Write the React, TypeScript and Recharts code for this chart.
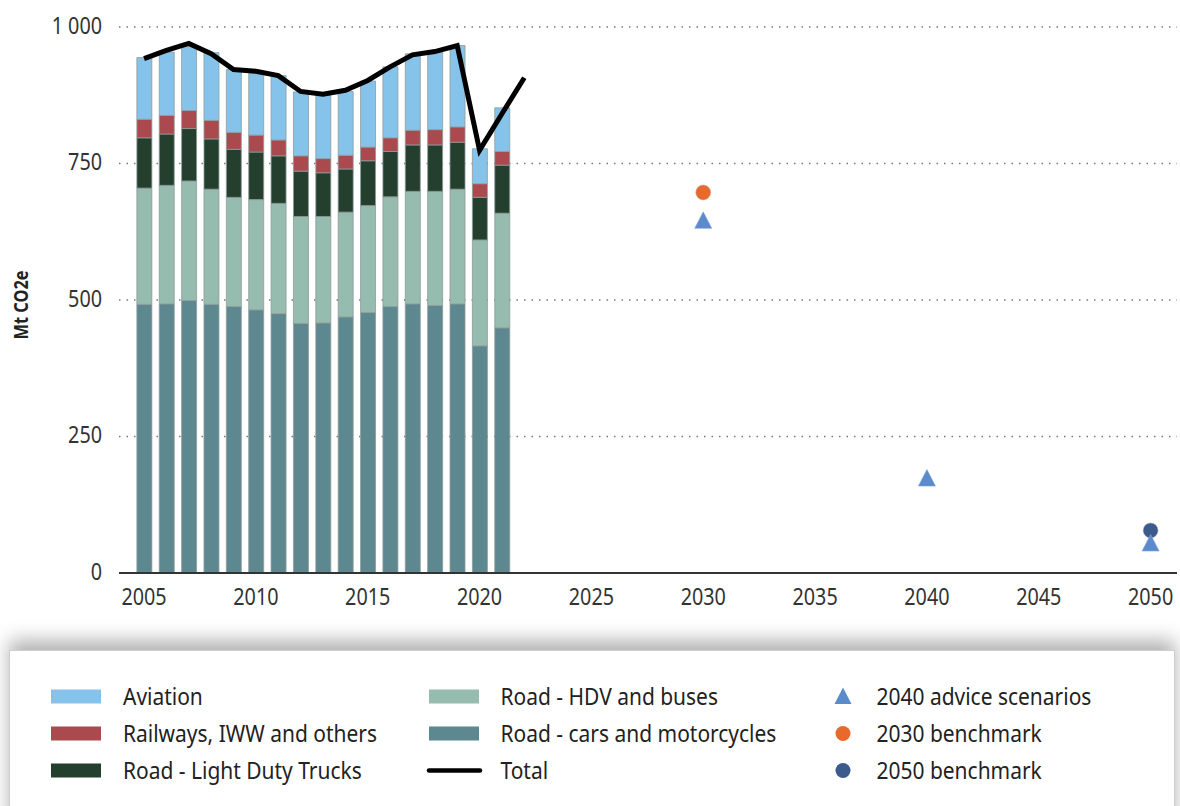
import React from 'react';
import { ComposedChart, Bar, Line, Scatter, XAxis, YAxis, CartesianGrid } from 'recharts';

const years = [2005, 2006, 2007, 2008, 2009, 2010, 2011, 2012, 2013, 2014, 2015, 2016, 2017, 2018, 2019, 2020, 2021];
const carsMoto = [492, 493, 499, 492, 488, 482, 475, 457, 458, 469, 477, 488, 493, 490, 493, 416, 449];
const hdvBuses = [213, 217, 219, 211, 200, 202, 202, 196, 195, 192, 196, 201, 206, 209, 210, 194, 210];
const lightTrucks = [92, 94, 96, 92, 88, 87, 87, 83, 80, 79, 82, 83, 85, 85, 86, 78, 88];
const railways = [34, 34, 33, 34, 31, 31, 29, 28, 26, 25, 25, 25, 27, 28, 28, 25, 25];
const aviation = [113, 116, 117, 124, 115, 113, 118, 117, 116, 117, 121, 130, 140, 142, 149, 64, 80];

const totalYears = [2005, 2006, 2007, 2008, 2009, 2010, 2011, 2012, 2013, 2014, 2015, 2016, 2017, 2018, 2019, 2020, 2021, 2022];
const totalValues = [942, 957, 970, 951, 922, 919, 911, 882, 877, 884, 902, 927, 949, 955, 966, 774, 841, 907];

const adviceYears = [2030, 2040, 2050];
const adviceValues = [645, 173, 54];
const bench2030 = [{ year: 2030, value: 697 }];
const bench2050 = [{ year: 2050, value: 78 }];

const xTicks = [2005, 2010, 2015, 2020, 2025, 2030, 2035, 2040, 2045, 2050];
const yTicks = [0, 250, 500, 750, 1000];

const C_AV = '#86C3EA';
const C_RAIL = '#AA4A4F';
const C_LDT = '#243F2E';
const C_HDV = '#96BBAF';
const C_CARS = '#5E8890';
const C_TRI = '#5B8BCA';
const C_ORANGE = '#E9692C';
const C_NAVY = '#3C5A8C';

const data = totalYears.map((y, i) => ({
  year: y,
  cars: i < years.length ? carsMoto[i] : null,
  hdv: i < years.length ? hdvBuses[i] : null,
  ldt: i < years.length ? lightTrucks[i] : null,
  rail: i < years.length ? railways[i] : null,
  aviation: i < years.length ? aviation[i] : null,
  total: totalValues[i],
}));

const adviceData = adviceYears.map((y, i) => ({ year: y, value: adviceValues[i] }));

const FONT = '"Noto Sans", "Open Sans", sans-serif';
const SQ = 0.86;

const Triangle = (props: any) => {
  const { cx, cy } = props;
  if (cx == null || cy == null) return null;
  return (
    <polygon
      points={`${cx},${cy - 9} ${cx - 8.5},${cy + 7.5} ${cx + 8.5},${cy + 7.5}`}
      fill={C_TRI}
      stroke="#7FA4D6"
      strokeWidth={0.6}
    />
  );
};

const makeCircle = (color: string) => (props: any) => {
  const { cx, cy } = props;
  if (cx == null || cy == null) return null;
  return <circle cx={cx} cy={cy} r={7.5} fill={color} stroke="#bbb" strokeWidth={0.5} />;
};

const fmtY = (v: number) => (v === 1000 ? '1 000' : String(v));

const XTick = (props: any) => {
  const { x, y, payload } = props;
  return (
    <g transform={`translate(${x},${y})`}>
      <text transform={`scale(${SQ},1)`} x={0} y={18} textAnchor="middle" fill="#333" fontSize={23} fontFamily={FONT}>
        {payload.value}
      </text>
    </g>
  );
};

const YTick = (props: any) => {
  const { x, y, payload } = props;
  return (
    <g transform={`translate(${x},${y})`}>
      <text transform={`scale(${SQ},1)`} x={0} y={6.5} textAnchor="end" fill="#333" fontSize={23} fontFamily={FONT}>
        {fmtY(payload.value)}
      </text>
    </g>
  );
};

const YLabel = () => (
  <text
    transform="translate(20,305) rotate(-90) scale(0.82,1)"
    textAnchor="middle"
    dominantBaseline="central"
    fontSize={20}
    fontWeight={700}
    fill="#222"
    fontFamily={FONT}
  >
    Mt CO2e
  </text>
);

const legendItems = [
  { col: 0, row: 0, kind: 'rect', color: C_AV, label: 'Aviation' },
  { col: 0, row: 1, kind: 'rect', color: C_RAIL, label: 'Railways, IWW and others' },
  { col: 0, row: 2, kind: 'rect', color: C_LDT, label: 'Road - Light Duty Trucks' },
  { col: 1, row: 0, kind: 'rect', color: C_HDV, label: 'Road - HDV and buses' },
  { col: 1, row: 1, kind: 'rect', color: C_CARS, label: 'Road - cars and motorcycles' },
  { col: 1, row: 2, kind: 'line', color: '#000', label: 'Total' },
  { col: 2, row: 0, kind: 'tri', color: C_TRI, label: '2040 advice scenarios' },
  { col: 2, row: 1, kind: 'circle', color: C_ORANGE, label: '2030 benchmark' },
  { col: 2, row: 2, kind: 'circle', color: C_NAVY, label: '2050 benchmark' },
];

const swatchLeft = [51, 429, 843];
const textLeft = [123, 500.5, 876.5];
const rowMid = [696.5, 733.5, 770.5];

function LegendMarker({ kind, color, col, row }: any) {
  const x = swatchLeft[col];
  const y = rowMid[row];
  if (kind === 'rect') return <rect x={x} y={y - 7} width={50} height={14} fill={color} />;
  if (kind === 'line') return <line x1={x} x2={x + 51} y1={y} y2={y} stroke={color} strokeWidth={4.5} strokeLinecap="round" />;
  if (kind === 'tri') return <polygon points={`${x},${y - 9} ${x - 8.5},${y + 7.5} ${x + 8.5},${y + 7.5}`} fill={color} />;
  return <circle cx={x} cy={y} r={7.5} fill={color} />;
}

export default function App() {
  return (
    <div style={{ position: 'absolute', left: 0, top: 0, width: 1180, height: 806, background: '#fff', overflow: 'hidden', fontFamily: FONT }}>
      <ComposedChart width={1180} height={640} data={data} margin={{ top: 27, right: 3, left: 0, bottom: 37 }}>
        <CartesianGrid vertical={false} stroke="#777" strokeDasharray="1.5 6" strokeWidth={1.6} />
        <XAxis
          dataKey="year"
          type="number"
          domain={[2003.88, 2051.18]}
          allowDataOverflow
          ticks={xTicks}
          height={30}
          axisLine={{ stroke: '#333', strokeWidth: 2 }}
          tickLine={false}
          tickMargin={8}
          tick={<XTick />}
        />
        <YAxis
          domain={[0, 1000]}
          ticks={yTicks}
          width={119}
          axisLine={false}
          tickLine={false}
          tickMargin={11}
          tick={<YTick />}
          label={<YLabel />}
        />
        <Bar dataKey="cars" stackId="s" fill={C_CARS} stroke="#8f9a9a" strokeWidth={0.8} barSize={15} isAnimationActive={false} />
        <Bar dataKey="hdv" stackId="s" fill={C_HDV} stroke="#8f9a9a" strokeWidth={0.8} barSize={15} isAnimationActive={false} />
        <Bar dataKey="ldt" stackId="s" fill={C_LDT} stroke="#8f9a9a" strokeWidth={0.8} barSize={15} isAnimationActive={false} />
        <Bar dataKey="rail" stackId="s" fill={C_RAIL} stroke="#8f9a9a" strokeWidth={0.8} barSize={15} isAnimationActive={false} />
        <Bar dataKey="aviation" stackId="s" fill={C_AV} stroke="#8f9a9a" strokeWidth={0.8} barSize={15} isAnimationActive={false} />
        <Line dataKey="total" type="linear" stroke="#000" strokeWidth={5} dot={false} activeDot={false} isAnimationActive={false} />
        <Scatter data={bench2030} dataKey="value" shape={makeCircle(C_ORANGE)} isAnimationActive={false} />
        <Scatter data={bench2050} dataKey="value" shape={makeCircle(C_NAVY)} isAnimationActive={false} />
        <Scatter data={adviceData} dataKey="value" shape={Triangle} isAnimationActive={false} />
      </ComposedChart>
      <div
        style={{
          position: 'absolute',
          left: 9,
          top: 650,
          width: 1164,
          height: 180,
          border: '1px solid #cfcfcf',
          background: '#fff',
          boxShadow: '0 -10px 18px rgba(0,0,0,0.3)',
        }}
      />
      <svg width={1180} height={806} style={{ position: 'absolute', left: 0, top: 0, pointerEvents: 'none' }}>
        {legendItems.map((it, i) => (
          <g key={i}>
            <LegendMarker kind={it.kind} color={it.color} col={it.col} row={it.row} />
            <text
              transform={`translate(${textLeft[it.col]},${rowMid[it.row] + 8.3}) scale(0.9,1)`}
              fontSize={23.3}
              fill="#222"
              fontFamily={FONT}
            >
              {it.label}
            </text>
          </g>
        ))}
      </svg>
    </div>
  );
}
